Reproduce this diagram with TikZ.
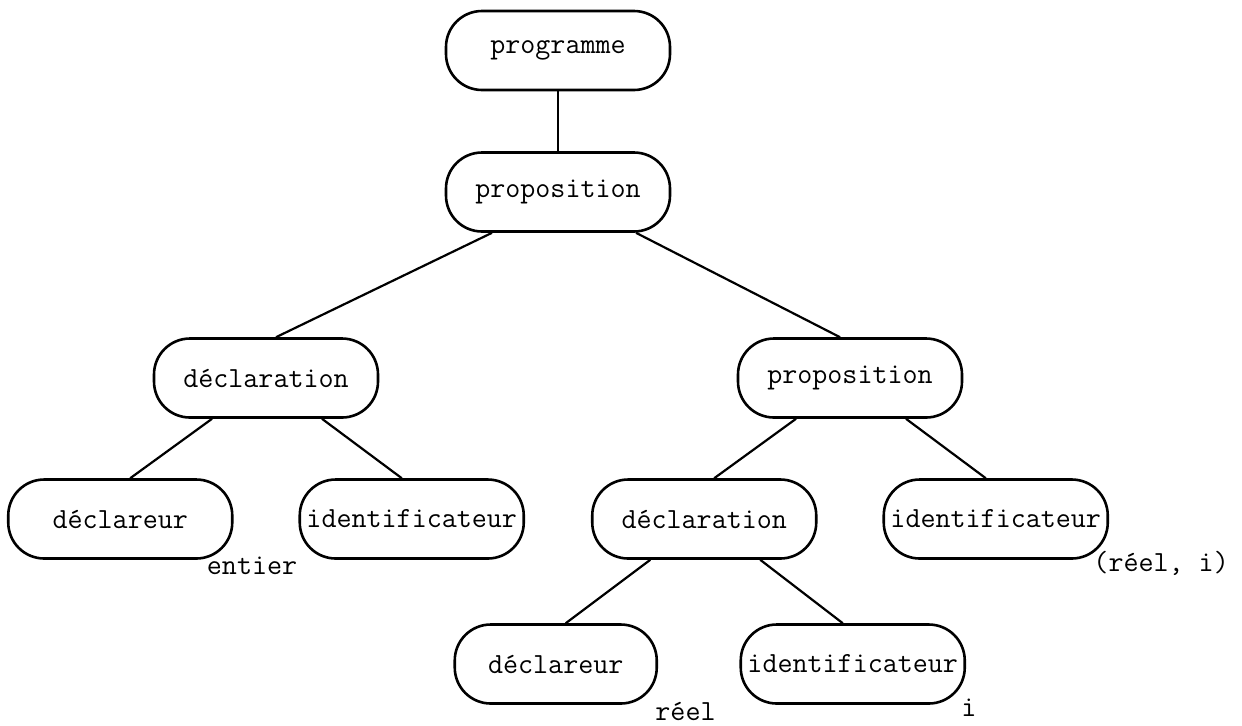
\documentclass[tikz,border=0pt]{standalone}
\begin{document}
\begin{tikzpicture}
        [
        x=0.5pt, y=-0.5pt,
        every node/.style={font=\fontsize{14.6pt}{17pt}\selectfont\ttfamily},
        tnode/.style={draw, line width=1.3pt, rounded corners=18pt,
            minimum width=112pt, minimum height=39.5pt, inner sep=0pt},
        leaflabel/.style={anchor=base west, inner sep=0pt},
        every child node/.style={tnode},
        edge from parent/.style={draw, line width=1.1pt},
        leftedge/.style={edge from parent path={([xshift=-#1]\tikzparentnode.south) -- ([xshift=5pt]\tikzchildnode.north)}},
        leftedge/.default=27pt,
        rightedge/.style={edge from parent path={([xshift=#1]\tikzparentnode.south) -- ([xshift=-5pt]\tikzchildnode.north)}},
        rightedge/.default=28pt,
        level 1/.style={level distance=70.75pt},
        level 2/.style={level distance=93pt, sibling distance=292pt},
        level 3/.style={level distance=70.5pt, sibling distance=145.75pt},
        level 4/.style={level distance=72.5pt, sibling distance=148.5pt},
        ]
        \useasboundingbox (0,0) rectangle (1242,725);
	    \node[tnode] (prog) at (558,50.5) {programme}
		child {node (propA) {proposition}
                child[leftedge=33pt] {node (declA) {déclaration}
                    child[leftedge] {node (dclrA) {déclareur}}
                    child[rightedge] {node (identA) {identificateur}}
                }
                child[rightedge=39pt] {node (propB) {proposition}
                    child[leftedge] {node (declB) {déclaration}
                        child[leftedge] {node[minimum width=101pt] (dclrB) {déclareur}}
                        child[rightedge] {node (identB) {identificateur}}
                    }
                    child[rightedge] {node (identC) {identificateur}}
                }
        };
        % valeurs sous les feuilles
        \node[leaflabel] (entier) at ([shift={(-27,15)}]dclrA.south east) {entier};
        \node[leaflabel] (reelI) at ([shift={(-16,12)}]identC.south east) {(réel, i)};
        \node[leaflabel] (reel) at ([shift={(-3,16)}]dclrB.south east) {réel};
        \node[leaflabel] (ivar) at ([shift={(-5,12)}]identB.south east) {i};
        \end{tikzpicture}
\end{document}
